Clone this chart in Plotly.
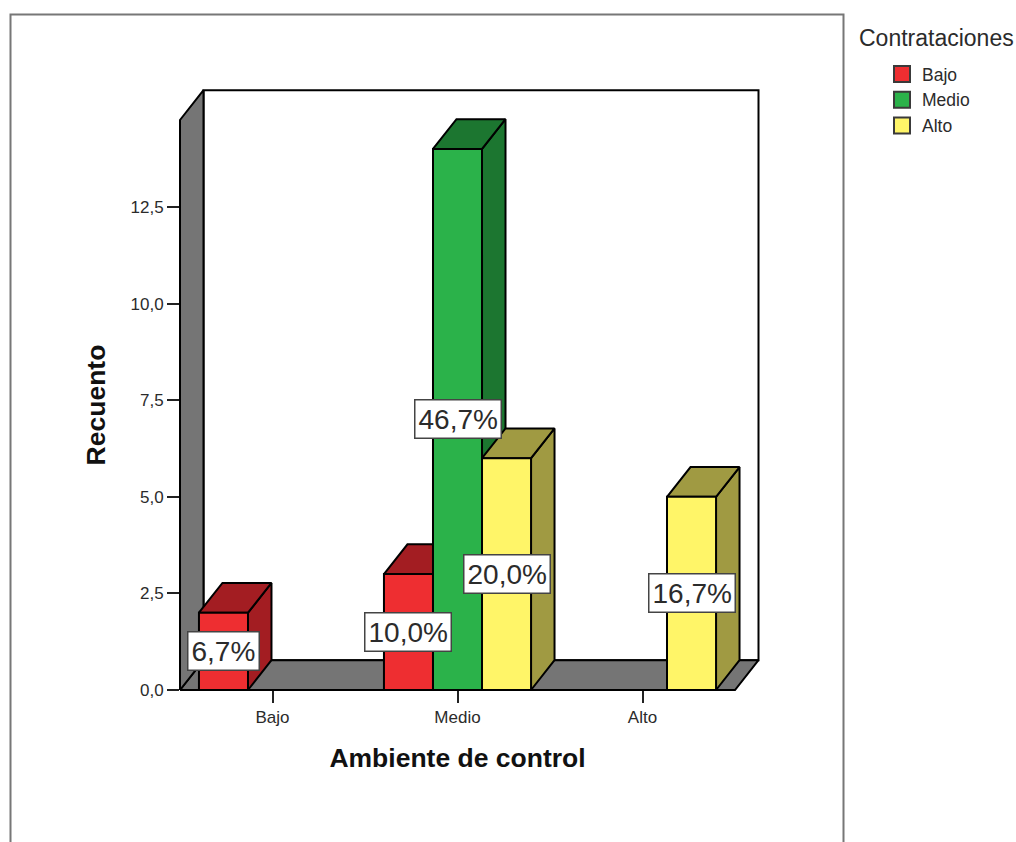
import plotly.graph_objects as go

# ---- data ----
categories = ["Bajo", "Medio", "Alto"]
series_names = ["Bajo", "Medio", "Alto"]
bajo_values = [2, 3, 0]
medio_values = [0, 14, 0]
alto_values = [0, 6, 5]
bajo_labels = ["6,7%", "10,0%", ""]
medio_labels = ["", "46,7%", ""]
alto_labels = ["", "20,0%", "16,7%"]
y_ticks = [0, 2.5, 5, 7.5, 10, 12.5]
y_ticktext = ["0,0", "2,5", "5,0", "7,5", "10,0", "12,5"]

# ---- style ----
W, H = 1016, 842
FONT = "Liberation Sans"
TXT = "#2b2b2b"
front_col = ["#EE2E31", "#2BB24A", "#FFF568"]
shade_col = ["#A31D22", "#1C7630", "#A09A42"]
wall_col = "#757575"
bar_w = 0.265
dx, dy = 0.127, 0.77
y_top = 14.75
xl, xr = -0.5, 2.5
L, R, B, T = 180, 735, 690, 120          # main axes box, px
PX = (R - L) / (xr - xl)
PY = (B - T) / y_top
PAD = 4

fig = go.Figure()


def poly(xs, ys, fill, lw=2):
    fig.add_trace(go.Scatter(
        x=xs, y=ys, xaxis="x2", yaxis="y2", mode="lines", fill="toself", fillcolor=fill,
        line=dict(color="black", width=lw),
        hoverinfo="skip", showlegend=False))


# walls and floor
poly([xl + dx, xr + dx, xr + dx, xl + dx, xl + dx], [dy, dy, y_top + dy, y_top + dy, dy], "white")
poly([xl, xl + dx, xr + dx, xr, xl], [0, dy, dy, 0, 0], wall_col)
poly([xl, xl + dx, xl + dx, xl, xl], [0, dy, y_top + dy, y_top, 0], wall_col)

all_values = [bajo_values, medio_values, alto_values]
all_labels = [bajo_labels, medio_labels, alto_labels]
annotations = []
for c in range(len(categories)):
    for s in range(len(series_names)):
        v = all_values[s][c]
        if not v:
            continue
        x0 = c + (s - 1.5) * bar_w
        x1 = x0 + bar_w
        poly([x1, x1 + dx, x1 + dx, x1, x1], [0, dy, v + dy, v, 0], shade_col[s])
        poly([x0, x0 + dx, x1 + dx, x1, x0], [v, v + dy, v + dy, v, v], shade_col[s])
        poly([x0, x1, x1, x0, x0], [0, 0, v, v, 0], front_col[s])
        annotations.append(dict(
            x=(x0 + x1) / 2, y=v / 2, xref="x2", yref="y2",
            text=all_labels[s][c], showarrow=False,
            font=dict(family=FONT, size=28, color=TXT),
            bgcolor="white", bordercolor="#444444", borderwidth=1.5, borderpad=3))

# legend entries
for s, name in enumerate(series_names):
    fig.add_trace(go.Scatter(
        x=[None], y=[None], mode="markers", name=name,
        marker=dict(symbol="square", size=16, color=front_col[s],
                    line=dict(color="#3a3a3a", width=2))))

annotations.append(dict(
    x=857 / W, y=1 - 38 / H, xref="paper", yref="paper", xanchor="left", yanchor="middle",
    text="Contrataciones", showarrow=False, font=dict(family=FONT, size=23, color=TXT)))

fig.update_layout(
    width=W, height=H, margin=dict(l=0, r=0, t=0, b=0, pad=0), autosize=False,
    paper_bgcolor="white", plot_bgcolor="rgba(0,0,0,0)",
    font=dict(family=FONT, color=TXT),
    annotations=annotations,
    shapes=[dict(type="rect", xref="paper", yref="paper", layer="below",
                 x0=10.5 / W, x1=843.5 / W, y0=-0.05, y1=1 - 14.5 / H,
                 line=dict(color="#777777", width=2), fillcolor="white")],
    legend=dict(x=882 / W, y=1 - 56 / H, xanchor="left", yanchor="top",
                font=dict(family=FONT, size=17.5, color=TXT),
                bgcolor="rgba(0,0,0,0)", borderwidth=0),
    xaxis=dict(domain=[L / W, R / W], range=[xl, xr], showgrid=False, zeroline=False,
               showline=False, tickmode="array", tickvals=list(range(len(categories))),
               ticktext=categories, ticks="outside", ticklen=12, tickwidth=1.5, tickcolor="#222222",
               tickfont=dict(family=FONT, size=17, color=TXT), automargin=False,
               title=dict(text="<b>Ambiente de control</b>", standoff=22,
                          font=dict(family=FONT, size=26.5, color="#111111"))),
    yaxis=dict(domain=[1 - B / H, 1 - T / H], range=[0, y_top], showgrid=False, zeroline=False,
               showline=False, tickmode="array", tickvals=y_ticks, ticktext=y_ticktext,
               ticks="outside", ticklen=12, tickwidth=1.5, tickcolor="#222222",
               tickfont=dict(family=FONT, size=17, color=TXT), automargin=False,
               title=dict(text="<b>Recuento</b>", standoff=17,
                          font=dict(family=FONT, size=26.5, color="#111111"))),
    # same scale as the main axes, with room for the depth of the walls
    xaxis2=dict(domain=[(L - PAD) / W, (R + dx * PX + PAD) / W],
                range=[xl - PAD / PX, xr + dx + PAD / PX], visible=False, anchor="y2"),
    yaxis2=dict(domain=[1 - (B + PAD) / H, 1 - (T - (dy * PY) - PAD) / H],
                range=[-PAD / PY, y_top + dy + PAD / PY], visible=False, anchor="x2"),
)

fig.write_html("out.html", config={"displayModeBar": False},
               post_script="document.body.style.margin='0';document.body.style.overflow='hidden';")
